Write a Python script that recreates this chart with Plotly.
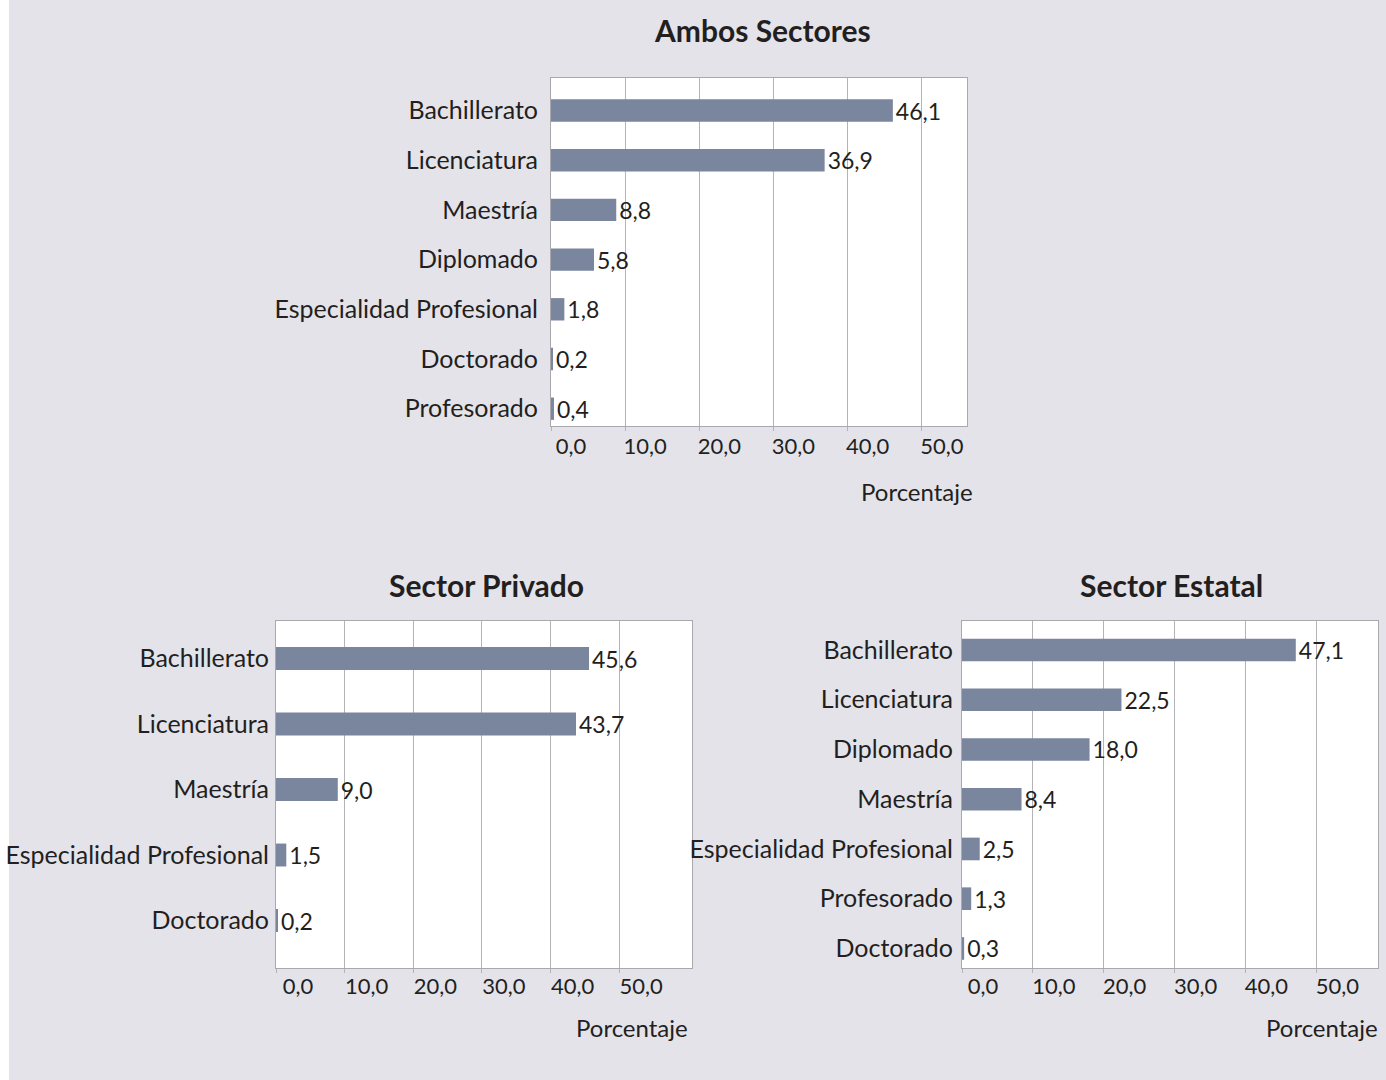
import plotly.graph_objects as go

# ---------------- data ----------------
ambos_cats = ["Bachillerato", "Licenciatura", "Maestría", "Diplomado",
              "Especialidad Profesional", "Doctorado", "Profesorado"]
ambos_vals = [46.1, 36.9, 8.8, 5.8, 1.8, 0.2, 0.4]

privado_cats = ["Bachillerato", "Licenciatura", "Maestría",
                "Especialidad Profesional", "Doctorado"]
privado_vals = [45.6, 43.7, 9.0, 1.5, 0.2]

estatal_cats = ["Bachillerato", "Licenciatura", "Diplomado", "Maestría",
                "Especialidad Profesional", "Profesorado", "Doctorado"]
estatal_vals = [47.1, 22.5, 18.0, 8.4, 2.5, 1.3, 0.3]

x_tickvals = [0, 10, 20, 30, 40, 50]
x_ticktext = ["0,0", "10,0", "20,0", "30,0", "40,0", "50,0"]

titles = ["Ambos Sectores", "Sector Privado", "Sector Estatal"]
axis_title = "Porcentaje"

# ---------------- style ----------------
W, H = 1386, 1080
BG = "#e4e3ea"
BAR = "#7a859e"
GRID = "#b4b4b8"
FRAME = "#a9a9ad"
TXT = "#231f20"
FONT = "Lato"

def fmt(v):
    return f"{v:.1f}".replace(".", ",")

# pixel boxes of the plot areas: (left, right, top, bottom)
panels = [
    dict(cats=ambos_cats, vals=ambos_vals, box=(551, 967, 78, 426), xmax=56.1,
         yr=[6.348, -0.654], bw=0.45, shift=20, standoff=7, xstand=-3,
         tx=762, ty=30, px=975, py=491),
    dict(cats=privado_cats, vals=privado_vals, box=(276, 692, 621, 968), xmax=60.6,
         yr=[4.725, -0.573], bw=0.35, shift=22, standoff=1, xstand=-5,
         tx=486, ty=585, px=690, py=1027),
    dict(cats=estatal_cats, vals=estatal_vals, box=(962, 1378, 621, 968), xmax=58.7,
         yr=[6.393, -0.582], bw=0.455, shift=21, standoff=3, xstand=-5,
         tx=1171, ty=585, px=1380, py=1027),
]

fig = go.Figure()
annotations = []
for i, p in enumerate(panels):
    sfx = "" if i == 0 else str(i + 1)
    l, r, t, b = p["box"]
    fig.add_trace(go.Bar(
        x=p["vals"], y=p["cats"], orientation="h",
        marker=dict(color=BAR, line=dict(width=0)),
        width=p["bw"],
        text=[fmt(v) for v in p["vals"]], textposition="outside",
        textfont=dict(family=FONT, size=23, color=TXT),
        constraintext="none",
        cliponaxis=False,
        xaxis="x" + sfx, yaxis="y" + sfx,
        showlegend=False, hoverinfo="skip",
    ))
    xa = dict(
        domain=[l / W, r / W], anchor="y" + sfx,
        range=[0, p["xmax"]], tickvals=x_tickvals, ticktext=x_ticktext,
        showgrid=True, gridcolor=GRID, gridwidth=1,
        zeroline=False,
        showline=True, linecolor=FRAME, linewidth=1, mirror=True,
        ticks="outside", ticklen=4, tickcolor=GRID,
        ticklabelshift=p["shift"], ticklabelstandoff=p["xstand"],
        tickfont=dict(family=FONT, size=22, color=TXT),
        fixedrange=True,
    )
    ya = dict(
        domain=[1 - b / H, 1 - t / H], anchor="x" + sfx,
        type="category", categoryorder="array", categoryarray=p["cats"],
        range=p["yr"],
        showgrid=False, zeroline=False,
        showline=True, linecolor=FRAME, linewidth=1, mirror=True,
        ticks="", ticklabelstandoff=p["standoff"],
        tickfont=dict(family=FONT, size=25, color=TXT),
        fixedrange=True,
    )
    fig.update_layout(**{"xaxis" + sfx: xa, "yaxis" + sfx: ya})
    annotations.append(dict(
        text="<b>" + titles[i] + "</b>", xref="paper", yref="paper",
        x=p["tx"] / W, y=1 - p["ty"] / H,
        xanchor="center", yanchor="middle", showarrow=False,
        font=dict(family=FONT, size=30, color=TXT),
    ))
    annotations.append(dict(
        text=axis_title, xref="paper", yref="paper",
        x=p["px"] / W, y=1 - p["py"] / H,
        xanchor="right", yanchor="middle", showarrow=False,
        font=dict(family=FONT, size=24, color=TXT),
    ))

fig.update_layout(
    width=W, height=H, autosize=False,
    margin=dict(l=0, r=0, t=0, b=0, pad=0),
    paper_bgcolor=BG, plot_bgcolor="white",
    annotations=annotations,
    shapes=[dict(type="rect", xref="paper", yref="paper",
                 x0=0, x1=9 / W, y0=0, y1=1, fillcolor="white",
                 line=dict(width=0), layer="below")],
)

fig.write_html(
    "out.html",
    config={"displayModeBar": False},
    post_script="document.body.style.margin='0px';document.body.style.overflow='hidden';",
)
